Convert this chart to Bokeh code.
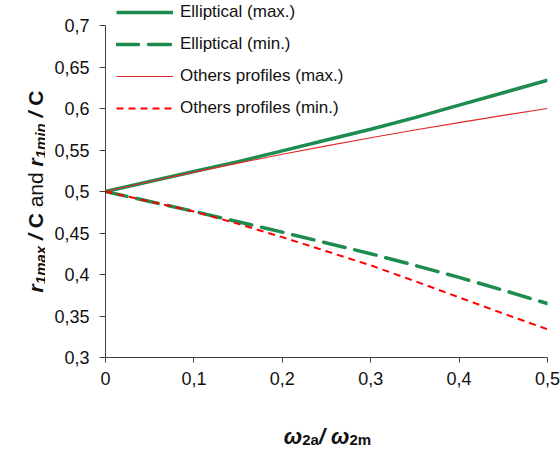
import glob
import struct
from bokeh.plotting import figure
from bokeh.layouts import row, column
from bokeh.models import FixedTicker, Label, Legend, LegendItem, Range1d
from bokeh.embed import file_html
from bokeh.resources import INLINE

# ---------------- data ----------------
x_vals = [0.0, 0.05, 0.1, 0.15, 0.2, 0.25, 0.3, 0.35, 0.4, 0.45, 0.5]
ell_max = [0.5, 0.512, 0.524, 0.536, 0.549, 0.562, 0.575, 0.589, 0.604, 0.619, 0.634]
ell_min = [0.5, 0.488, 0.476, 0.4635, 0.451, 0.438, 0.425, 0.411, 0.3965, 0.381, 0.365]
oth_max = [0.5, 0.5118, 0.5233, 0.5342, 0.5448, 0.555, 0.5647, 0.574, 0.583, 0.5917, 0.600]
oth_min = [0.5, 0.488, 0.476, 0.461, 0.445, 0.428, 0.411, 0.392, 0.3725, 0.353, 0.334]
series_names = ["Elliptical (max.)", "Elliptical (min.)",
                "Others profiles (max.)", "Others profiles (min.)"]
x_ticks = [0.0, 0.1, 0.2, 0.3, 0.4, 0.5]
x_tick_labels = ["0", "0,1", "0,2", "0,3", "0,4", "0,5"]
y_ticks = [0.3, 0.35, 0.4, 0.45, 0.5, 0.55, 0.6, 0.65, 0.7]
y_tick_labels = ["0,3", "0,35", "0,4", "0,45", "0,5", "0,55", "0,6", "0,65", "0,7"]

FONT = "Liberation Sans"
TXT = "#111111"

# ---------------- text metrics (for composing titles with sub-scripts) ----------------
FALLBACK = {" ": 0.278, "/": 0.278, "C": 0.722, "r": 0.389, "1": 0.556, "m": 0.889, "a": 0.556,
            "x": 0.556, "i": 0.278, "n": 0.611, "2": 0.556, "d": 0.611, "\u03c9": 0.78}
FALLBACK_REG = {" ": 0.278, "a": 0.556, "n": 0.556, "d": 0.556}


def _font_widths(path):
    data = open(path, "rb").read()
    num = struct.unpack(">H", data[4:6])[0]
    tables = {}
    for i in range(num):
        tag, _cs, off, ln = struct.unpack(">4sIII", data[12 + 16 * i:28 + 16 * i])
        tables[tag.decode("latin1")] = off
    head = tables["head"]
    upem = struct.unpack(">H", data[head + 18:head + 20])[0]
    hhea = tables["hhea"]
    nhm = struct.unpack(">H", data[hhea + 34:hhea + 36])[0]
    hmtx = tables["hmtx"]
    adv = [struct.unpack(">H", data[hmtx + 4 * i:hmtx + 4 * i + 2])[0] for i in range(nhm)]
    cm = tables["cmap"]
    n = struct.unpack(">H", data[cm + 2:cm + 4])[0]
    sub = None
    for i in range(n):
        pid, eid, off = struct.unpack(">HHI", data[cm + 4 + 8 * i:cm + 12 + 8 * i])
        fmt = struct.unpack(">H", data[cm + off:cm + off + 2])[0]
        if fmt == 4:
            sub = cm + off
            break
    seg2 = struct.unpack(">H", data[sub + 6:sub + 8])[0]
    seg = seg2 // 2
    ends = struct.unpack(">%dH" % seg, data[sub + 14:sub + 14 + seg2])
    starts = struct.unpack(">%dH" % seg, data[sub + 16 + seg2:sub + 16 + 2 * seg2])
    deltas = struct.unpack(">%dh" % seg, data[sub + 16 + 2 * seg2:sub + 16 + 3 * seg2])
    rpos = sub + 16 + 3 * seg2
    roffs = struct.unpack(">%dH" % seg, data[rpos:rpos + seg2])

    def gid(c):
        for i in range(seg):
            if starts[i] <= c <= ends[i]:
                if roffs[i] == 0:
                    return (c + deltas[i]) & 0xFFFF
                addr = rpos + 2 * i + roffs[i] + 2 * (c - starts[i])
                g = struct.unpack(">H", data[addr:addr + 2])[0]
                return (g + deltas[i]) & 0xFFFF if g else 0
        return 0

    def w(ch):
        g = gid(ord(ch))
        return adv[min(g, nhm - 1)] / upem
    return w


METRICS = {}
for style, fname in (("normal", "Regular"), ("bold", "Bold"), ("italic", "Italic"),
                     ("bold italic", "BoldItalic")):
    try:
        files = glob.glob("/usr/share/fonts/**/LiberationSans-%s.ttf" % fname, recursive=True)
        METRICS[style] = _font_widths(files[0])
    except Exception:
        pass


def width(txt, size, style):
    f = METRICS.get(style)
    total = 0.0
    for c in txt:
        try:
            total += f(c) if f else None
        except Exception:
            tab = FALLBACK_REG if style == "normal" else FALLBACK
            total += tab.get(c, 0.556)
    return total * size


# ---------------- page geometry (pixels) ----------------
PAGE_W, PAGE_H = 560, 449
YT_W = 45                 # width of the y-title strip
XT_H = 39                 # height of the x-title strip
MAIN_W, MAIN_H = PAGE_W - YT_W, PAGE_H - XT_H
FR_L, FR_R = 105, 547     # frame left / right (page px)
FR_B = 357                # frame bottom (page px), where y = 0.3
Y_TOP_PX = 25             # page px of y = 0.7
X0, X1, Y0, Y1 = 0.0, 0.5, 0.3, 0.7
y_per_px = (Y1 - Y0) / (FR_B - Y_TOP_PX)
y_frame_top = Y1 + Y_TOP_PX * y_per_px   # frame reaches page top so the legend is not clipped

p = figure(width=MAIN_W, height=MAIN_H,
           x_range=Range1d(X0, X1), y_range=Range1d(Y0, y_frame_top),
           output_backend="svg", toolbar_location=None,
           min_border_left=FR_L - YT_W, min_border_right=PAGE_W - FR_R,
           min_border_top=0, min_border_bottom=MAIN_H - FR_B)
p.outline_line_color = None
p.xgrid.visible = False
p.ygrid.visible = False
p.background_fill_color = "white"
p.border_fill_color = "white"

for ax, ticks, labs in ((p.xaxis, x_ticks, x_tick_labels), (p.yaxis, y_ticks, y_tick_labels)):
    ax.ticker = FixedTicker(ticks=ticks)
    ax.major_label_overrides = dict(zip(ticks, labs))
    ax.axis_line_color = "#404040"
    ax.major_tick_line_color = "#404040"
    ax.major_tick_in = 0
    ax.minor_tick_in = 0
    ax.minor_tick_out = 0
    ax.major_label_text_font = FONT
    ax.major_label_text_font_size = "18px"
    ax.major_label_text_color = TXT
p.yaxis.bounds = (Y0, Y1)
p.xaxis.major_tick_out = 5
p.yaxis.major_tick_out = 6
p.xaxis.major_label_standoff = 9
p.yaxis.major_label_standoff = 10

GREEN = "#1e8c4e"
r1 = p.line(x_vals, ell_max, line_color=GREEN, line_width=3.5)
r2 = p.line(x_vals, ell_min, line_color=GREEN, line_width=3.5, line_dash="22 10", line_cap="round")
r3 = p.line(x_vals, oth_max, line_color="#e02a2a", line_width=1.1)
r4 = p.line(x_vals, oth_min, line_color="#ff0000", line_width=2, line_dash="7 5")

ROW_H, ROW_GAP = 20, 12
leg_h = 4 * ROW_H + 3 * ROW_GAP
leg_top = 2
legend = Legend(items=[LegendItem(label=n, renderers=[r]) for n, r in zip(series_names, [r1, r2, r3, r4])],
                location=(116 - FR_L, FR_B - (leg_top + leg_h)), padding=0, margin=0, spacing=ROW_GAP,
                glyph_width=57, glyph_height=ROW_H, label_height=ROW_H, label_standoff=7,
                label_text_font=FONT, label_text_font_size="17px", label_text_color=TXT,
                border_line_color=None, background_fill_alpha=0)
p.add_layout(legend, "center")


# ---------------- title strips (pixel coordinates) ----------------
def strip(w, h, xr, yr):
    f = figure(width=w, height=h, x_range=xr, y_range=yr, output_backend="svg",
               toolbar_location=None, x_axis_location=None, y_axis_location=None,
               min_border=0, min_border_left=0, min_border_right=0,
               min_border_top=0, min_border_bottom=0)
    f.outline_line_color = None
    f.xgrid.visible = False
    f.ygrid.visible = False
    f.background_fill_color = "white"
    f.border_fill_color = "white"
    return f


def compose(fig, pieces, start, base, vertical):
    """pieces: (text, size, style, baseline_shift); blank text only advances."""
    cur = start
    for t, s, st, off in pieces:
        adv = width(t, s, st)
        if t.strip():
            if vertical:
                lab = Label(x=base + off, y=cur, text=t, angle=1.5707963267948966)
            else:
                lab = Label(x=cur, y=base + off, text=t)
            lab.text_font = FONT
            lab.text_font_size = f"{s}px"
            lab.text_font_style = st
            lab.text_color = TXT
            lab.text_align = "left"
            lab.text_baseline = "alphabetic"
            fig.add_layout(lab)
        cur = cur - adv if vertical else cur + adv


BI, B, N = "bold italic", "bold", "normal"

# y title strip: data coords == page pixels (y downwards)
yt = strip(YT_W, PAGE_H, Range1d(0, YT_W), Range1d(PAGE_H, 0))
ypieces = [("r", 21, BI, 0), ("1max", 15, BI, 5), (" ", 21, B, 0), ("/", 21, BI, 0), (" ", 21, B, 0),
           ("C", 21, B, 0), (" ", 21, N, 0), ("and", 21, N, 0), (" ", 21, N, 0),
           ("r", 21, BI, 0), ("1min", 15, BI, 5), (" ", 21, B, 0), ("/", 21, BI, 0), (" ", 21, B, 0),
           ("C", 21, B, 0)]
ytot = sum(width(t, s, st) for t, s, st, _ in ypieces)
compose(yt, ypieces, 191 + ytot / 2.0, 35, True)

# x title strip: the column layout aligns its frame with the main frame (page x 105..547),
# so the strip's data x equals page x
xt = strip(MAIN_W, XT_H, Range1d(FR_L, FR_R), Range1d(PAGE_H, MAIN_H))
xpieces = [("\u03c9", 22, BI, 0), ("2a", 15, B, 3), ("/", 22, BI, 0), (" ", 22, BI, 0),
           ("\u03c9", 22, BI, 0), ("2m", 15, B, 3)]
xtot = sum(width(t, s, st) for t, s, st, _ in xpieces)
compose(xt, xpieces, 327 - xtot / 2.0, 436, False)

layout = row(yt, column(p, xt, spacing=0), spacing=0)
open("out.html", "w").write(file_html(layout, INLINE))
